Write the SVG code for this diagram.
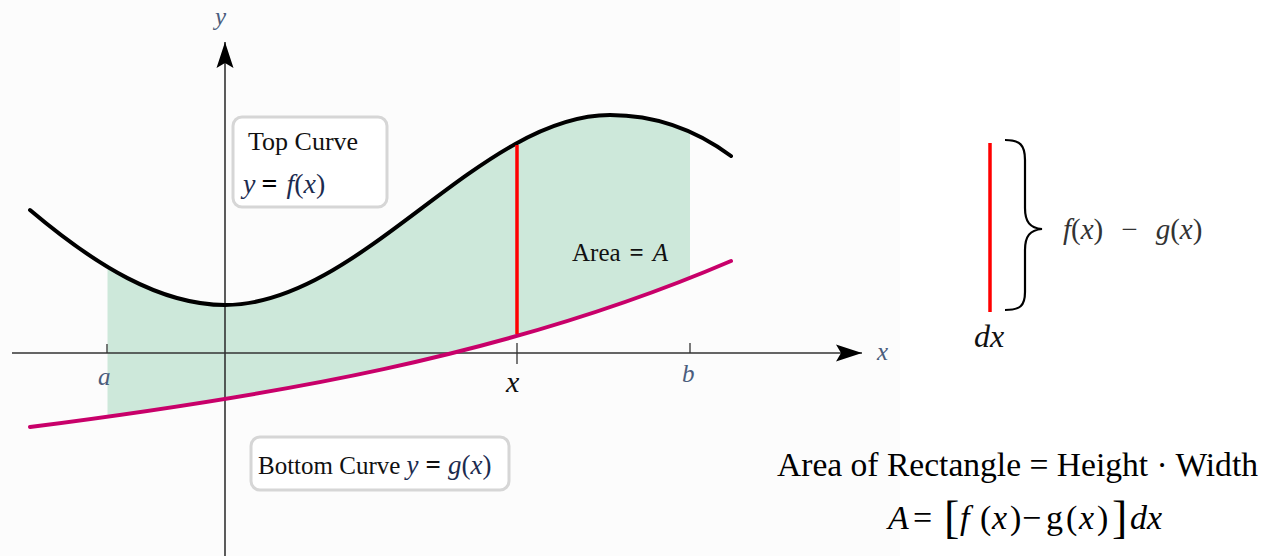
<svg xmlns="http://www.w3.org/2000/svg" width="1270" height="556" viewBox="0 0 1270 556">
<style>
.serif{font-family:"Liberation Serif","Times New Roman",serif}
.it{font-style:italic}
.axis{stroke:#333;stroke-width:1.6;fill:none}
.tick{stroke:#333;stroke-width:1.3}
.box{fill:#fff;stroke:#d6d6d6;stroke-width:3}
.lbl{fill:#4b5d7c;font-size:25px}
.math{fill:#1c2b4f}
</style>
<defs>
<marker id="arr" markerWidth="28" markerHeight="20" refX="26" refY="10" orient="auto" markerUnits="userSpaceOnUse">
<path d="M0,1.5 L26,10 L0,18.5 L5,10 Z" fill="#000"/>
</marker>
<clipPath id="ab"><rect x="107.5" y="0" width="582.5" height="556"/></clipPath>
</defs>
<rect width="1270" height="556" fill="#fff"/>
<rect x="0" y="0" width="900" height="556" fill="#fcfcfc"/>
<g id="area">
<path clip-path="url(#ab)" fill="#cde8da" d="M30,210 C95,265 160,305 225,305 C360,305 480,115 610,115 C660,115 700,133 731,156 L731,261 C505,358 264,397 30,427 Z"/>
</g>
<g id="connectors">
<line class="axis" x1="225" y1="556" x2="225" y2="42" marker-end="url(#arr)"/>
<line class="axis" x1="12" y1="353" x2="862" y2="353" marker-end="url(#arr)"/>
<line class="tick" x1="107" y1="344" x2="107" y2="353"/>
<line class="tick" x1="690" y1="343" x2="690" y2="353"/>
<line class="tick" x1="517" y1="343" x2="517" y2="364"/>
</g>
<g id="top-curve">
<path d="M30,210 C95,265 160,305 225,305 C360,305 480,115 610,115 C660,115 700,133 731,156" fill="none" stroke="#000" stroke-width="4" stroke-linecap="round"/>
</g>
<g id="bottom-curve">
<path d="M30,427 C264,397 505,358 731,261" fill="none" stroke="#c8006a" stroke-width="4" stroke-linecap="round"/>
</g>
<g id="strip">
<line x1="517" y1="145" x2="517" y2="334" stroke="#ff0000" stroke-width="3.5"/>
</g>
<g id="axis-labels" class="serif it">
<text class="lbl" x="215" y="25">y</text>
<text class="lbl" x="877" y="360">x</text>
<text class="lbl" x="98" y="385" font-size="27">a</text>
<text class="lbl" x="682" y="382" font-size="27">b</text>
<text x="506" y="392" font-size="30" fill="#111">x</text>
</g>
<g id="top-label">
<rect class="box" x="233" y="117" width="154" height="90" rx="9"/>
<text class="serif" x="248" y="150" font-size="26" fill="#111">Top Curve</text>
<text class="serif math" x="243" y="193" font-size="28"><tspan class="it">y</tspan><tspan dx="6" font-weight="bold" fill="#000">=</tspan><tspan dx="9" class="it">f</tspan>(<tspan class="it">x</tspan>)</text>
</g>
<g id="area-label">
<text class="serif" x="572" y="261" font-size="25" fill="#111">Area<tspan dx="9" font-weight="bold">=</tspan><tspan dx="9" class="it">A</tspan></text>
</g>
<g id="bottom-label">
<rect class="box" x="251" y="437" width="258" height="53" rx="9"/>
<text class="serif" x="258" y="474" font-size="25" fill="#111">Bottom Curve <tspan class="math it" font-size="27">y</tspan><tspan dx="7" font-weight="bold" font-size="27">=</tspan><tspan dx="7" class="math it" font-size="27">g</tspan><tspan class="math" font-size="27">(</tspan><tspan class="math it" font-size="27">x</tspan><tspan class="math" font-size="27">)</tspan></text>
</g>
<g id="strip-detail">
<line x1="990" y1="143" x2="990" y2="312" stroke="#ff0000" stroke-width="3.5"/>
<path d="M1005,140 C1020,140 1025,145 1025,160 L1025,208 C1025,222 1030,228 1042,229 C1030,230 1025,236 1025,250 L1025,292 C1025,306 1020,310 1005,310" fill="none" stroke="#000" stroke-width="2.2"/>
<text class="serif" x="1063" y="239" font-size="29" fill="#333"><tspan class="it">f</tspan>(<tspan class="it">x</tspan>)<tspan dx="18">−</tspan><tspan dx="18" class="it">g</tspan>(<tspan class="it">x</tspan>)</text>
<text class="serif it" x="974" y="347" font-size="32" fill="#111">dx</text>
</g>
<g id="formula">
<text class="serif" x="777" y="476" font-size="34" fill="#000" textLength="481" lengthAdjust="spacingAndGlyphs">Area of Rectangle = Height · Width</text>
<text class="serif" y="529" font-size="34" fill="#000"><tspan class="it" x="888">A</tspan><tspan x="913">=</tspan><tspan x="944" font-size="46" dy="4">[</tspan><tspan class="it" x="960" dy="-4">f</tspan><tspan x="980">(</tspan><tspan class="it" x="992">x</tspan><tspan x="1010">)</tspan><tspan x="1022">−</tspan><tspan x="1046">g</tspan><tspan x="1066">(</tspan><tspan class="it" x="1079">x</tspan><tspan x="1097">)</tspan><tspan x="1112" font-size="46" dy="4">]</tspan><tspan class="it" x="1130" dy="-4">dx</tspan></text>
</g>
</svg>
